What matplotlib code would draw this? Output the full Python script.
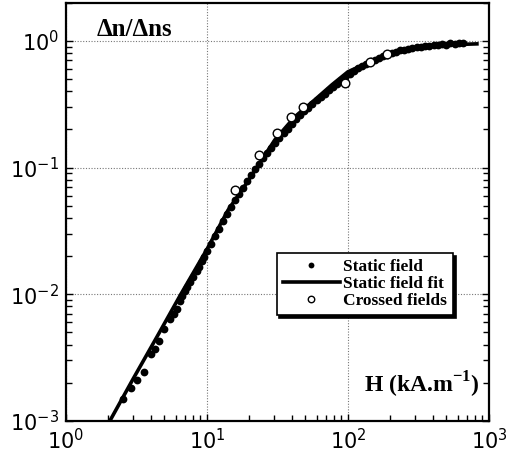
import numpy as np
import matplotlib
matplotlib.use("Agg")
import matplotlib.pyplot as plt
from matplotlib.ticker import LogLocator, NullFormatter

plt.rcParams["mathtext.fontset"] = "custom"
plt.rcParams["mathtext.rm"] = "Liberation Serif:bold"

# static field measurements (H in kA/m, dn/dns)
static_H = [2.54, 2.89, 3.19, 3.57, 4.01, 4.28, 4.57, 4.95, 5.47, 5.8, 6.13,
            6.44, 6.7, 6.98, 7.2, 7.58, 8.0, 8.49, 8.8, 9.22, 9.6, 10.0,
            10.7, 11.4, 12.2, 13.0, 13.9, 14.8, 15.8, 16.9, 18.0, 19.3,
            20.6, 22.0, 23.5, 25.1, 26.8, 28.6, 30.6, 32.7, 35.0, 37.4,
            40.0, 42.8, 45.8, 49.0, 52.4, 56.0, 60.0, 64.0, 68.5, 73.0,
            78.0, 84.0, 90.0, 96.0, 103, 110, 118, 126, 135, 145, 155,
            166, 178, 190, 204, 218, 234, 250, 268, 287, 307, 330, 353,
            378, 405, 434, 465, 498, 533, 571, 612, 655]
static_y = [1.49e-3, 1.82e-3, 2.10e-3, 2.43e-3, 3.37e-3, 3.69e-3, 4.27e-3,
            5.30e-3, 6.35e-3, 7.0e-3, 7.62e-3, 8.81e-3, 9.6e-3, 1.06e-2,
            1.13e-2, 1.24e-2, 1.38e-2, 1.52e-2, 1.65e-2, 1.82e-2, 1.98e-2,
            2.18e-2, 2.48e-2, 2.86e-2, 0.033, 0.038, 0.043, 0.049, 0.055,
            0.062, 0.069, 0.078, 0.087, 0.097, 0.107, 0.118, 0.130, 0.143,
            0.157, 0.171, 0.186, 0.203, 0.221, 0.240, 0.258, 0.277, 0.297,
            0.318, 0.339, 0.360, 0.383, 0.406, 0.430, 0.460, 0.490, 0.520,
            0.550, 0.580, 0.610, 0.635, 0.660, 0.690, 0.710, 0.730, 0.760,
            0.780, 0.800, 0.820, 0.840, 0.850, 0.870, 0.875, 0.890, 0.900,
            0.905, 0.915, 0.925, 0.930, 0.940, 0.935, 0.955, 0.950, 0.960,
            0.970]

# fit curve
fit_H = [2.05, 3.0, 4.42, 6.5, 10.0, 14.1, 18.6, 24.5, 30.4, 42.1, 58.3,
         77.0, 100, 143, 199, 262, 340, 500, 822]
fit_y = [1.0e-3, 2.15e-3, 4.6e-3, 9.9e-3, 0.0226, 0.046, 0.072, 0.115,
         0.166, 0.252, 0.343, 0.45, 0.57, 0.683, 0.78, 0.85, 0.895, 0.93,
         0.947]

# crossed fields measurements
crossed_H = [15.8, 23.4, 31.4, 39.4, 48.0, 95.2, 143, 189]
crossed_y = [0.0659, 0.1265, 0.1887, 0.252, 0.302, 0.467, 0.683, 0.790]

fig = plt.figure(figsize=(5.19, 4.57), dpi=100)
ax = fig.add_axes([0.127, 0.079, 0.815, 0.915])

ax.plot(static_H, static_y, "o", color="black", ms=5.6, mew=0,
        label="Static field", zorder=3)
ax.plot(fit_H, fit_y, "-", color="black", lw=2.6,
        label="Static field fit", zorder=2)
ax.plot(crossed_H, crossed_y, "o", mfc="white", mec="black", ms=6.2,
        mew=1.0, label="Crossed fields", zorder=4)

ax.set_xscale("log")
ax.set_yscale("log")
ax.set_xlim(1, 1000)
ax.set_ylim(1e-3, 2.0)

ax.grid(True, which="major", linestyle=(0, (1, 1.5)), color="#777777",
        linewidth=0.8)
ax.xaxis.set_minor_locator(LogLocator(base=10, subs=np.arange(2, 10)))
ax.yaxis.set_minor_locator(LogLocator(base=10, subs=np.arange(2, 10)))
ax.xaxis.set_minor_formatter(NullFormatter())
ax.yaxis.set_minor_formatter(NullFormatter())
ax.tick_params(which="both", direction="in", right=True, top=False,
               width=1.0, labelsize=15)
ax.tick_params(which="major", length=5, pad=5)
ax.tick_params(which="minor", length=4)
for s in ax.spines.values():
    s.set_linewidth(1.6)

ax.text(0.072, 0.935, "Δn/Δns", transform=ax.transAxes,
        family="Liberation Serif", weight="bold", fontsize=18,
        va="center", ha="left")
ax.text(0.978, 0.085, r"H (kA.m$^{-1}$)", transform=ax.transAxes,
        family="Liberation Serif", weight="bold", fontsize=17,
        va="center", ha="right")

leg = ax.legend(loc="center", bbox_to_anchor=(0.707, 0.327), frameon=True,
                fancybox=False, shadow={"color": "black", "alpha": 1},
                edgecolor="black", framealpha=1, handlelength=3.3,
                handletextpad=0.2, labelspacing=0.05, borderpad=0.35,
                markerscale=0.75,
                prop={"family": "Liberation Serif", "weight": "bold",
                      "size": 12.5})
leg.get_frame().set_linewidth(1.2)

fig.savefig("out.png", dpi=100)
